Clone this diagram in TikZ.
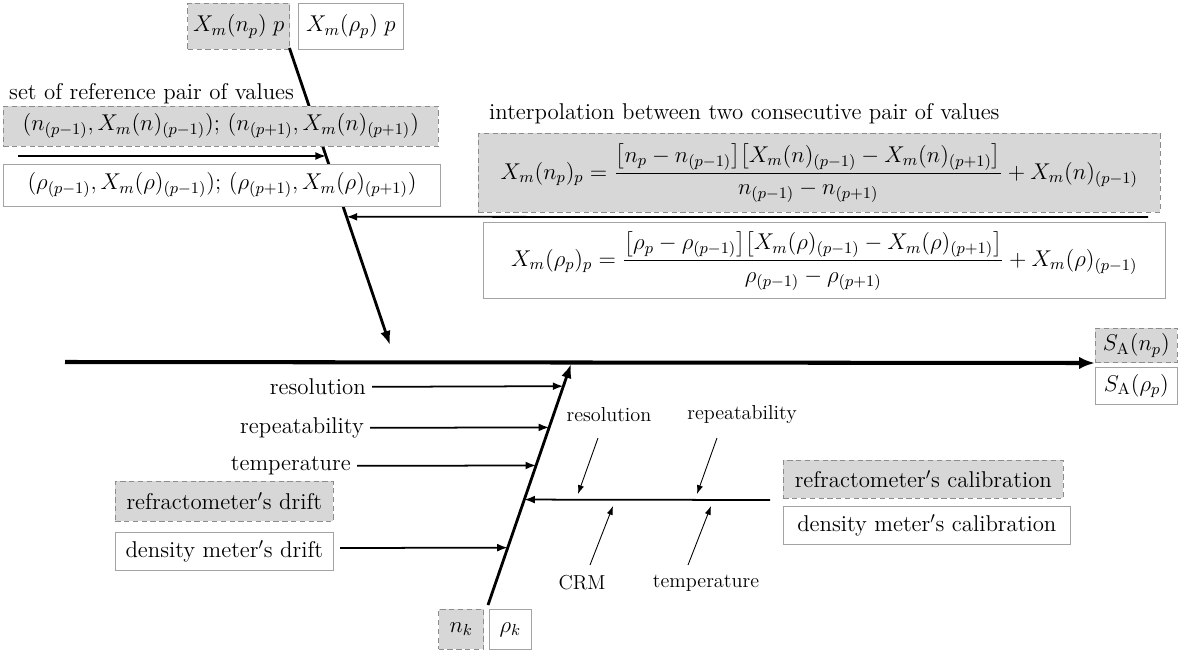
\RequirePackage{fix-cm}
\documentclass[tikz,border=0pt]{standalone}
\usepackage{amsmath}
\usetikzlibrary{arrows.meta, calc, positioning}
\definecolor{boxgray}{RGB}{215,215,215}
\definecolor{edgegray}{RGB}{140,140,140}

\begin{document}
\begin{tikzpicture}[x=0.02cm,y=-0.02cm,
		every node/.style={font=\fontsize{13}{15}\selectfont},
		graybox/.style={draw=edgegray,densely dashed,fill=boxgray,inner sep=3pt},
		whitebox/.style={draw=edgegray!80,fill=white,inner sep=3pt},
		small/.style={font=\fontsize{11.5}{13}\selectfont},
		spine/.style={line width=2.3pt,-{Latex[length=9pt,width=7pt]}},
		bone/.style={line width=1.6pt,-{Latex[length=8pt,width=6pt]}},
		branch/.style={line width=1pt,-{Latex[length=6pt,width=4.5pt]}},
		twig/.style={line width=0.5pt,-{Latex[length=5pt,width=3.5pt]}}]
		\useasboundingbox (0,0) rectangle (1200,653);
		% top left: result of the interpolation
		\node[graybox,minimum height=0.92cm,anchor=north east] (Xnp) at (290,3) {$X_m(n_p)\;p$};
		\node[whitebox,minimum height=0.92cm,minimum width=2.1cm,right=0.16cm of Xnp] (Xrp) {$X_m(\rho_p)\;p$};
		\coordinate (headA) at (390,345);
		\draw[bone,shorten <=-1pt] (Xnp.south east) -- (headA);
		\node[anchor=base west] (reftxt) at (3,99) {set of reference pair of values};
		\node[graybox,anchor=north west,minimum width=8.7cm,minimum height=0.8cm] (refn) at (3,106)
			{$(n_{(p-1)},X_m(n)_{(p-1)});\,(n_{(p+1)},X_m(n)_{(p+1)})$};
		\node[whitebox,anchor=north west,minimum width=8.75cm,minimum height=0.84cm] (refr) at (3,164)
			{$(\rho_{(p-1)},X_m(\rho)_{(p-1)});\,(\rho_{(p+1)},X_m(\rho)_{(p+1)})$};
		\draw[branch] (18,156) coordinate (inA) -- ($(Xnp.south east)!0.36!(headA)$);
		% top right: interpolation
		\node[anchor=base west] (inttxt) at (483,119) {interpolation between two consecutive pair of values};
		\node[graybox,anchor=north west,minimum width=13.64cm,minimum height=1.58cm] (eqn) at (478,133)
			{$X_m(n_p)_p=\dfrac{\bigl[n_p-n_{(p-1)}\bigr]\bigl[X_m(n)_{(p-1)}-X_m(n)_{(p+1)}\bigr]}{n_{(p-1)}-n_{(p+1)}}+X_m(n)_{(p-1)}$};
		\node[whitebox,anchor=north west,minimum width=13.64cm,minimum height=1.52cm] (eqr) at (483,222)
			{$X_m(\rho_p)_p=\dfrac{\bigl[\rho_p-\rho_{(p-1)}\bigr]\bigl[X_m(\rho)_{(p-1)}-X_m(\rho)_{(p+1)}\bigr]}{\rho_{(p-1)}-\rho_{(p+1)}}+X_m(\rho)_{(p-1)}$};
		\draw[branch] (1148,217) coordinate (inB) -- ($(Xnp.south east)!0.566!(headA)$);
		% effect
		\node[graybox,anchor=south west,minimum width=1.64cm,minimum height=0.62cm] (SAn) at (1095,363) {$S_{\mathrm{A}}(n_p)$};
		\node[whitebox,below=0.08cm of SAn,minimum width=1.64cm,minimum height=0.74cm] (SAr) {$S_{\mathrm{A}}(\rho_p)$};
		\coordinate (tail) at (65,362);
		\draw[spine] (tail) -- (SAn.south west);
		% lower bone
		\node[graybox,minimum width=0.9cm,minimum height=0.8cm,anchor=north east] (nk) at (484,609) {$n_k$};
		\node[whitebox,minimum width=0.84cm,minimum height=0.8cm,right=0.1cm of nk] (rk) {$\rho_k$};
		\coordinate (footB) at (488,605);
		\coordinate (headB) at (571,364);
		\draw[bone] (footB) -- (headB);
		\node[anchor=east] (res) at (372,387) {resolution};
		\node[anchor=east] (rep) at (370,428) {repeatability};
		\node[anchor=east] (tem) at (357,466) {temperature};
		\draw[branch] (res) -- ($(footB)!0.908!(headB)$);
		\draw[branch] (rep) -- ($(footB)!0.737!(headB)$);
		\draw[branch] (tem) -- ($(footB)!0.579!(headB)$);
		\node[graybox,anchor=north west,minimum height=0.8cm,minimum width=4.36cm] (drn) at (115,481) {refractometer$'$s drift};
		\node[whitebox,below=0.2cm of drn.south west,anchor=north west,minimum height=0.76cm,minimum width=4.36cm] (drr) {density meter$'$s drift};
		\draw[branch] (340,548) coordinate (inD) -- ($(footB)!0.238!(headB)$);
		% calibration
		\node[graybox,anchor=north west,minimum height=0.76cm,minimum width=5.6cm] (caln) at (783,460) {refractometer$'$s calibration};
		\node[whitebox,below=0.14cm of caln.south west,anchor=north west,minimum height=0.76cm,minimum width=5.74cm] (calr) {density meter$'$s calibration};
		\coordinate (calB) at (770,500);
		\draw[branch] (calB) -- ($(footB)!0.4375!(headB)$);
		\node[small] (res2) at (609,415) {resolution};
		\node[small] (rep2) at (742,415) {repeatability};
		\node[small] (crm) at (582,583) {CRM};
		\node[small] (tem2) at (706,583) {temperature};
		\draw[twig] (598,438) -- (578,494);
		\draw[twig] (717,438) -- (697,494);
		\draw[twig] (590,565) -- (613,506);
		\draw[twig] (688,565) -- (711,506);
\end{tikzpicture}
\end{document}
